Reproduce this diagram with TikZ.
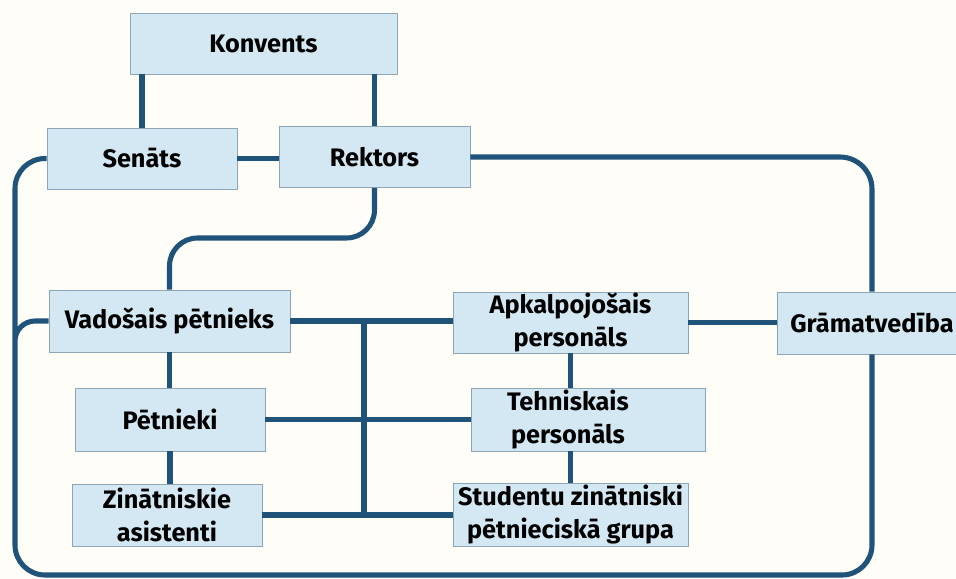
\documentclass[tikz,border=0pt]{standalone}
\usepackage{fontspec}
\setmainfont{Fira Sans}
\definecolor{linkblue}{HTML}{1F5379}
\definecolor{boxfill}{HTML}{D3E8F3}
\definecolor{boxline}{HTML}{8CA6B6}
\definecolor{paper}{HTML}{FFFDF7}

\begin{document}
\begin{tikzpicture}[x=0.025cm, y=-0.025cm,
    box/.style={draw=boxline, line width=0.6pt, fill=boxfill, inner sep=0pt, align=center,
        font=\bfseries\fontsize{18}{23}\selectfont},
    link/.style={draw=linkblue, line width=3.6pt}]

        %%background
        \fill[paper] (0,0) rectangle (956,579);
        \useasboundingbox (0,0) rectangle (956,579);

        %%the boxes
        \node[box, minimum width=6.675cm, minimum height=1.525cm] (konv) at (263.5,43.5) {Konvents};
        \node[box, minimum width=4.75cm, minimum height=1.525cm] (sen) at (142,158.5) {Senāts};
        \node[box, minimum width=4.775cm, minimum height=1.525cm] (rek) at (374.5,157) {Rektors};

        \node[box, minimum width=6.025cm, minimum height=1.55cm] (vad) at (169.5,321) {Vadošais pētnieks};
        \node[box, minimum width=4.75cm, minimum height=1.575cm] (pet) at (170,419.5) {Pētnieki};
        \node[box, minimum width=4.75cm, minimum height=1.55cm] (zin) at (167,515) {Zinātniskie\\asistenti};

        \node[box, minimum width=5.875cm, minimum height=1.525cm] (apk) at (570.5,322.5) {Apkalpojošais\\personāls};
        \node[box, minimum width=5.85cm, minimum height=1.575cm] (teh) at (588,419.5) {Tehniskais\hspace*{1cm}\\personāls\hspace*{1cm}};
        \node[box, minimum width=5.875cm, minimum height=1.575cm] (stu) at (570.5,514.5) {Studentu zinātniski\\pētnieciskā grupa};

        \node[box, minimum width=4.75cm, minimum height=1.55cm] (gram) at (872,323) {Grāmatvedība};

        %%helper points
        \coordinate (loopbl) at (15,575);
        \coordinate (loopmid) at (15,380);
        \coordinate (rekbend) at (270,238);
        \coordinate (bus) at (364,0);

        %%the links at the top
        \draw[link] (sen.north) -- (sen.north |- konv.south);
        \draw[link] (rek.north) -- (rek.north |- konv.south);
        \draw[link] (sen.east) -- (sen.east -| rek.west);
        \draw[link, rounded corners=0.7cm] (rek.south) |- (rekbend) -| (vad.north);
        \draw[link, rounded corners=0.8cm] (rek.east) -| (gram.north);

        %%the big loop round everything, with the branch to vad
        \draw[link, rounded corners=0.75cm] (gram.south) |- (loopbl) |- (sen.west)
            [rounded corners=0.5cm] (loopmid) |- (vad.west);

        %%left column
        \draw[link] (vad.south) -- (vad.south |- pet.north);
        \draw[link] (pet.south) -- (pet.south |- zin.north);

        %%the bus in the middle
        \draw[link] (vad.east) -- (vad.east -| apk.west);
        \draw[link] (pet.east) -- (pet.east -| teh.west);
        \draw[link] (zin.east) -- (zin.east -| stu.west);
        \draw[link] (vad.east -| bus) -- (zin.east -| bus);

        %%right column
        \draw[link] (apk.south) -- (apk.south |- teh.north);
        \draw[link] (stu.north) -- (stu.north |- teh.south);
        \draw[link] (apk.east) -- (apk.east -| gram.west);
\end{tikzpicture}
\end{document}
